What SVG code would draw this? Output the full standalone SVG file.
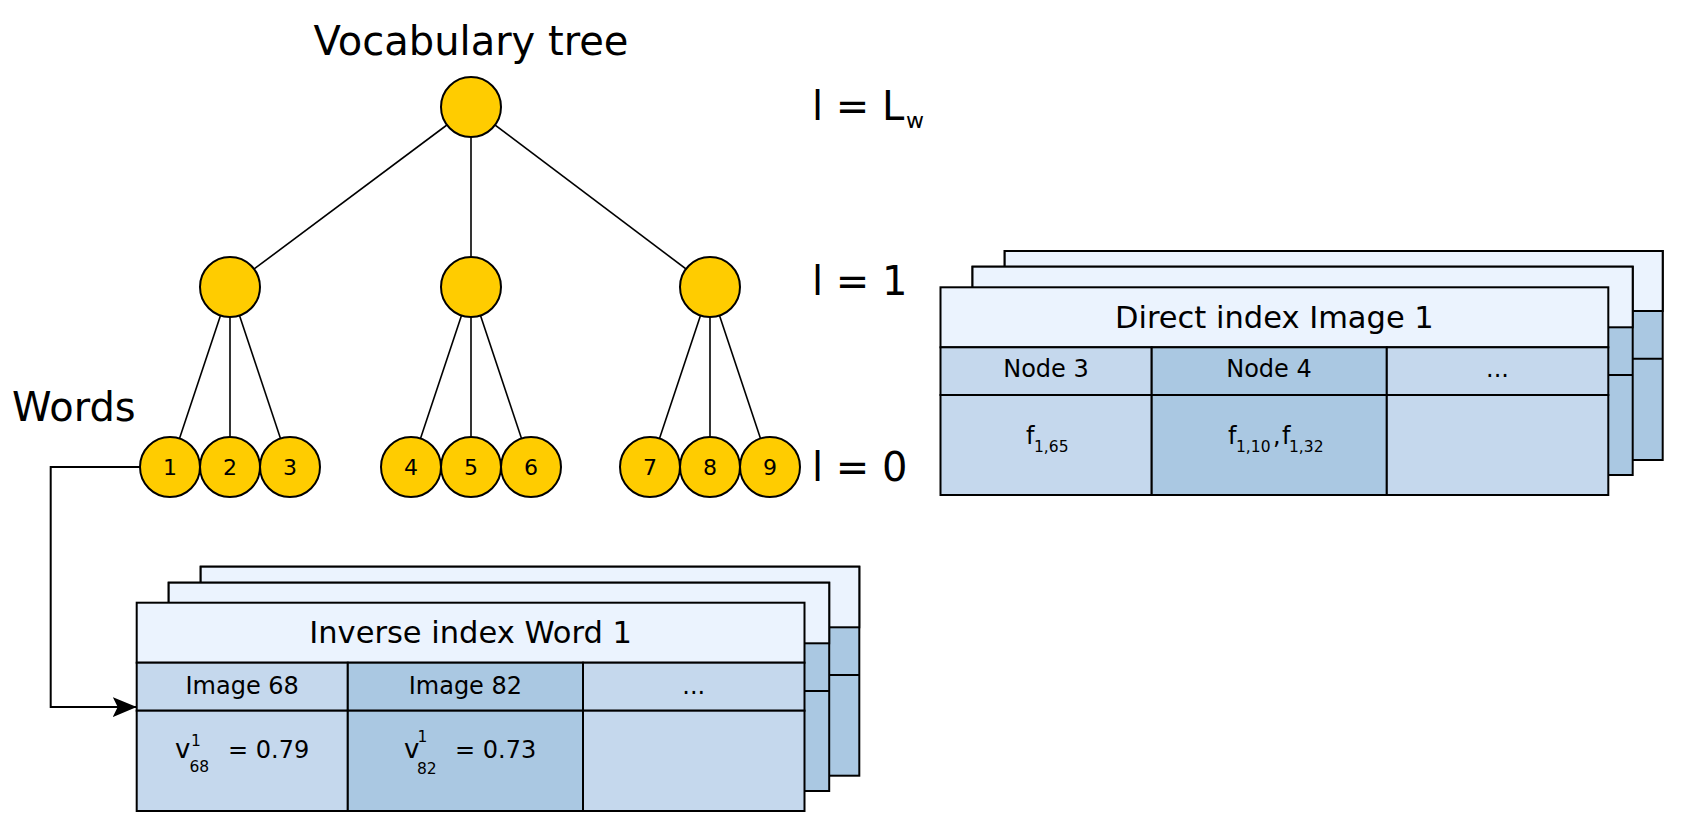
<svg xmlns="http://www.w3.org/2000/svg" width="1692" height="817" viewBox="0 0 1692 817">
<defs>
<style>
text{font-family:"DejaVu Sans","Liberation Sans",sans-serif;fill:#000}
.big{font-size:40px}
.hd{font-size:30.5px}
.cell{font-size:24px}
.sub{font-size:15.5px}
.num{font-size:22px}
.edge{stroke:#000;stroke-width:1.6;fill:none}
.node{fill:#ffcc00;stroke:#000;stroke-width:2}
.hdr{fill:#ebf3fe;stroke:#000;stroke-width:2}
.lt{fill:#c5d8ed;stroke:#000;stroke-width:2}
.dk{fill:#aac8e2;stroke:#000;stroke-width:2}
.conn{stroke:#000;stroke-width:2;fill:none}
</style>
<marker id="arr" viewBox="0 0 24 20" refX="24" refY="10" markerWidth="24" markerHeight="20" markerUnits="userSpaceOnUse" orient="auto">
<path d="M0,0 L24,10 L0,20 L5,10 Z" fill="#000"/>
</marker>
</defs>
<rect width="1692" height="817" fill="#fff"/>

<g id="labels">
<text class="big" x="471" y="55" text-anchor="middle">Vocabulary tree</text>
<text class="big" x="12" y="421">Words</text>
<text class="big" x="812" y="120">l = L</text>
<text x="906" y="128" style="font-size:22px">w</text>
<text class="big" x="812" y="295">l = 1</text>
<text class="big" x="812" y="481">l = 0</text>
</g>

<g id="tree-edges">
<line class="edge" x1="471" y1="107" x2="230" y2="287"/>
<line class="edge" x1="471" y1="107" x2="471" y2="287"/>
<line class="edge" x1="471" y1="107" x2="710" y2="287"/>
<line class="edge" x1="230" y1="287" x2="170" y2="467"/>
<line class="edge" x1="230" y1="287" x2="230" y2="467"/>
<line class="edge" x1="230" y1="287" x2="290" y2="467"/>
<line class="edge" x1="471" y1="287" x2="411" y2="467"/>
<line class="edge" x1="471" y1="287" x2="471" y2="467"/>
<line class="edge" x1="471" y1="287" x2="531" y2="467"/>
<line class="edge" x1="710" y1="287" x2="650" y2="467"/>
<line class="edge" x1="710" y1="287" x2="710" y2="467"/>
<line class="edge" x1="710" y1="287" x2="770" y2="467"/>
</g>

<g id="connectors">
<path class="conn" d="M140,467 H50.7 V707 H136.7" marker-end="url(#arr)"/>
</g>

<g id="node-root"><circle class="node" cx="471" cy="107" r="30"/></g>
<g id="node-l1a"><circle class="node" cx="230" cy="287" r="30"/></g>
<g id="node-l1b"><circle class="node" cx="471" cy="287" r="30"/></g>
<g id="node-l1c"><circle class="node" cx="710" cy="287" r="30"/></g>

<g id="word-1"><circle class="node" cx="170" cy="467" r="30"/><text class="num" x="170" y="475" text-anchor="middle">1</text></g>
<g id="word-2"><circle class="node" cx="230" cy="467" r="30"/><text class="num" x="230" y="475" text-anchor="middle">2</text></g>
<g id="word-3"><circle class="node" cx="290" cy="467" r="30"/><text class="num" x="290" y="475" text-anchor="middle">3</text></g>
<g id="word-4"><circle class="node" cx="411" cy="467" r="30"/><text class="num" x="411" y="475" text-anchor="middle">4</text></g>
<g id="word-5"><circle class="node" cx="471" cy="467" r="30"/><text class="num" x="471" y="475" text-anchor="middle">5</text></g>
<g id="word-6"><circle class="node" cx="531" cy="467" r="30"/><text class="num" x="531" y="475" text-anchor="middle">6</text></g>
<g id="word-7"><circle class="node" cx="650" cy="467" r="30"/><text class="num" x="650" y="475" text-anchor="middle">7</text></g>
<g id="word-8"><circle class="node" cx="710" cy="467" r="30"/><text class="num" x="710" y="475" text-anchor="middle">8</text></g>
<g id="word-9"><circle class="node" cx="770" cy="467" r="30"/><text class="num" x="770" y="475" text-anchor="middle">9</text></g>

<g id="direct-index-back">
<rect class="dk" x="1004.7" y="251" width="658" height="209"/>
<rect class="hdr" x="1004.7" y="251" width="658" height="60"/>
<line class="conn" x1="1004.7" y1="358.7" x2="1662.7" y2="358.7"/>
</g>
<g id="direct-index-middle">
<rect class="dk" x="972.5" y="266.7" width="660.2" height="208.3"/>
<rect class="hdr" x="972.5" y="266.7" width="660.2" height="60.6"/>
<line class="conn" x1="972.5" y1="375" x2="1632.7" y2="375"/>
</g>
<g id="direct-index-front">
<rect class="hdr" x="940.5" y="287.3" width="667.8" height="60"/>
<rect class="lt" x="940.5" y="347.3" width="211.2" height="47.7"/>
<rect class="dk" x="1151.7" y="347.3" width="235.1" height="47.7"/>
<rect class="lt" x="1386.8" y="347.3" width="221.5" height="47.7"/>
<rect class="lt" x="940.5" y="395" width="211.2" height="100"/>
<rect class="dk" x="1151.7" y="395" width="235.1" height="100"/>
<rect class="lt" x="1386.8" y="395" width="221.5" height="100"/>
<text class="hd" x="1274.4" y="328.3" text-anchor="middle">Direct index Image 1</text>
<text class="cell" x="1046" y="377" text-anchor="middle">Node 3</text>
<text class="cell" x="1269" y="377" text-anchor="middle">Node 4</text>
<text class="cell" x="1497.5" y="377" text-anchor="middle">...</text>
<text class="cell" x="1026" y="444">f</text>
<text class="sub" x="1034" y="452">1,65</text>
<text class="cell" x="1228" y="444">f</text>
<text class="sub" x="1236" y="452">1,10</text>
<text class="cell" x="1273" y="444">,</text>
<text class="cell" x="1282" y="444">f</text>
<text class="sub" x="1289" y="452">1,32</text>
</g>

<g id="inverse-index-back">
<rect class="dk" x="200.7" y="566.7" width="658.6" height="209"/>
<rect class="hdr" x="200.7" y="566.7" width="658.6" height="60.6"/>
<line class="conn" x1="200.7" y1="675" x2="859.3" y2="675"/>
</g>
<g id="inverse-index-middle">
<rect class="dk" x="168.7" y="582.7" width="660.5" height="208.3"/>
<rect class="hdr" x="168.7" y="582.7" width="660.5" height="60.6"/>
<line class="conn" x1="168.7" y1="691" x2="829.2" y2="691"/>
</g>
<g id="inverse-index-front">
<rect class="hdr" x="136.7" y="602.7" width="667.8" height="60"/>
<rect class="lt" x="136.7" y="662.7" width="211.1" height="48"/>
<rect class="dk" x="347.8" y="662.7" width="235.2" height="48"/>
<rect class="lt" x="583" y="662.7" width="221.5" height="48"/>
<rect class="lt" x="136.7" y="710.7" width="211.1" height="100.3"/>
<rect class="dk" x="347.8" y="710.7" width="235.2" height="100.3"/>
<rect class="lt" x="583" y="710.7" width="221.5" height="100.3"/>
<text class="hd" x="470.6" y="643.3" text-anchor="middle">Inverse index Word 1</text>
<text class="cell" x="242.2" y="694.3" text-anchor="middle">Image 68</text>
<text class="cell" x="465.4" y="694.3" text-anchor="middle">Image 82</text>
<text class="cell" x="693.7" y="694.3" text-anchor="middle">...</text>
<text x="175" y="758.3" style="font-size:26px">v</text>
<text class="sub" x="191" y="745.5">1</text>
<text class="sub" x="189.5" y="772">68</text>
<text class="cell" x="228" y="758.3">= 0.79</text>
<text x="404" y="758.3" style="font-size:26px">v</text>
<text class="sub" x="417.5" y="742">1</text>
<text class="sub" x="417" y="773.5">82</text>
<text class="cell" x="455" y="758.3">= 0.73</text>
</g>
</svg>
